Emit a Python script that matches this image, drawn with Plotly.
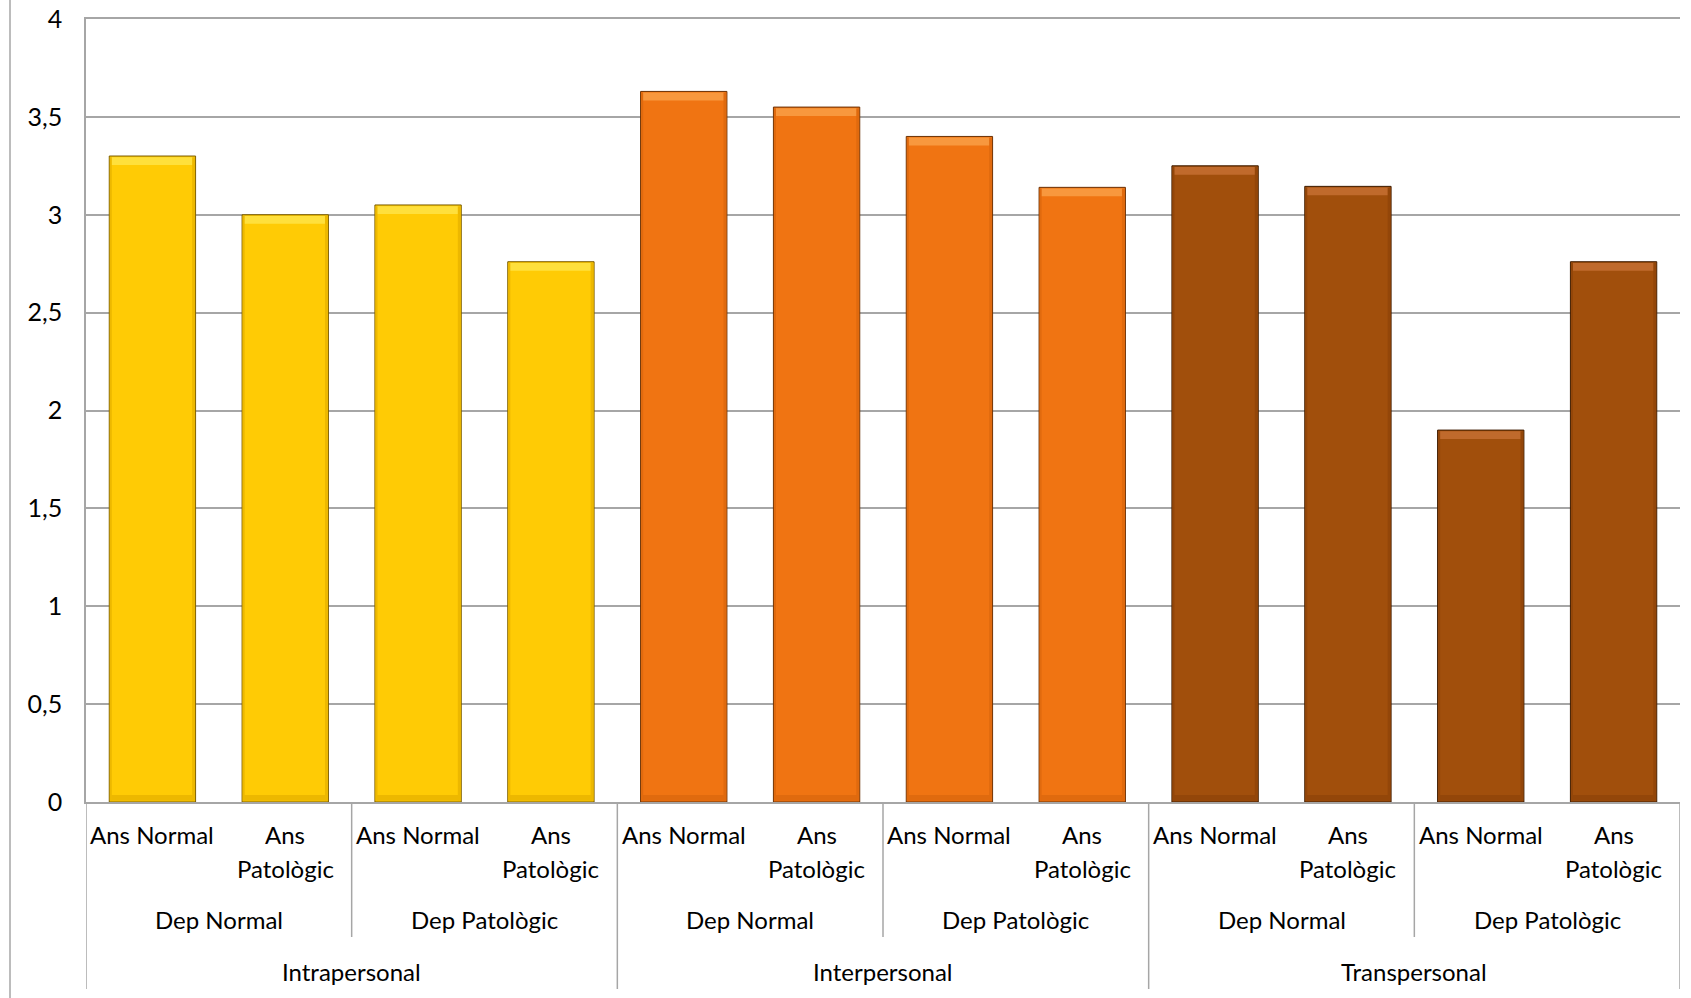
import plotly.graph_objects as go

# Hierarchical categories: dimension > depression level > anxiety level
dimensions = ["Intrapersonal", "Interpersonal", "Transpersonal"]
depression = ["Dep Normal", "Dep Patològic"]
anxiety = ["Ans Normal", "Ans Patològic"]

# Mean scores, one list per dimension (order: DepN/AnsN, DepN/AnsP, DepP/AnsN, DepP/AnsP)
intrapersonal = [3.30, 3.00, 3.05, 2.76]
interpersonal = [3.63, 3.55, 3.40, 3.14]
transpersonal = [3.25, 3.145, 1.90, 2.76]

y_ticks = [0, 0.5, 1, 1.5, 2, 2.5, 3, 3.5, 4]
y_tick_text = ["0", "0,5", "1", "1,5", "2", "2,5", "3", "3,5", "4"]

series = [intrapersonal, interpersonal, transpersonal]
fills = ["#FFCB05", "#F07412", "#A14F0C"]
highlights = ["#FFE03C", "#F8983E", "#C06A2C"]
shades = ["#EDB800", "#E06A0E", "#934609"]
edges = ["#7A5C00", "#6A3004", "#3E1C00"]

FONT = "Lato"
GRID = "#A6A6A6"
BAR_W = 0.65
TOP_BAND = 0.04
BOTTOM_BAND = 0.03
EDGE_W = 0.022

fig = go.Figure()
n_per_dim = len(depression) * len(anxiety)
for d, vals in enumerate(series):
    xs = [d * n_per_dim + i for i in range(n_per_dim)]
    fig.add_trace(go.Bar(
        x=xs, y=vals, width=BAR_W,
        marker=dict(color=fills[d], line=dict(color=edges[d], width=1)),
        showlegend=False, hoverinfo="y",
    ))
    # bevel: light top band, darker bottom band and darker side strips
    fig.add_trace(go.Bar(
        x=xs, y=[TOP_BAND] * len(vals), base=[v - TOP_BAND - 0.006 for v in vals],
        width=BAR_W - 0.03,
        marker=dict(color=highlights[d], line=dict(width=0)),
        showlegend=False, hoverinfo="skip",
    ))
    fig.add_trace(go.Bar(
        x=xs, y=[BOTTOM_BAND] * len(vals), base=[0.006] * len(vals),
        width=BAR_W - 0.03,
        marker=dict(color=shades[d], line=dict(width=0)),
        showlegend=False, hoverinfo="skip",
    ))
    fig.add_trace(go.Bar(
        x=xs, y=[v - 0.012 for v in vals], base=[0.006] * len(vals),
        width=EDGE_W, offset=BAR_W / 2 - EDGE_W - 0.004,
        marker=dict(color=shades[d], line=dict(width=0)),
        showlegend=False, hoverinfo="skip",
    ))
    fig.add_trace(go.Bar(
        x=xs, y=[v - 0.012 for v in vals], base=[0.006] * len(vals),
        width=EDGE_W * 0.7, offset=-BAR_W / 2 + 0.004,
        marker=dict(color=shades[d], line=dict(width=0)),
        showlegend=False, hoverinfo="skip",
    ))

n_total = n_per_dim * len(dimensions)

# paper-y positions of the label rows and separator lines below the axis
plot_h = 783.0
def below(px):
    return -px / plot_h

shapes = []
annotations = []

# separators between depression groups and between dimensions
for k in range(0, n_total + 1, len(anxiety)):
    xb = k - 0.5
    outer = (k % n_per_dim == 0)
    shapes.append(dict(type="line", xref="x", yref="paper",
                       x0=xb, x1=xb, y0=0, y1=below(187 if outer else 135),
                       line=dict(color=GRID, width=1.5)))

LABEL_FONT = dict(family=FONT, size=24, color="#000000")

# anxiety labels (wrapped when too long for the category)
for i in range(n_total):
    lab = anxiety[i % len(anxiety)]
    if len(lab) > 10:
        first, rest = lab.split(" ", 1)
        annotations.append(dict(x=i, y=below(33), text=first))
        annotations.append(dict(x=i, y=below(66), text=rest))
    else:
        annotations.append(dict(x=i, y=below(33), text=lab))

# depression labels
for g in range(len(dimensions) * len(depression)):
    xc = g * len(anxiety) + (len(anxiety) - 1) / 2
    annotations.append(dict(x=xc, y=below(117), text=depression[g % len(depression)]))

# dimension labels
for d, name in enumerate(dimensions):
    xc = d * n_per_dim + (n_per_dim - 1) / 2
    annotations.append(dict(x=xc, y=below(169), text=name))

for a in annotations:
    a.update(xref="x", yref="paper", showarrow=False, xanchor="center",
             yanchor="middle", font=LABEL_FONT)

# outer frame line on the left of the chart
shapes.append(dict(type="line", xref="paper", yref="paper",
                   x0=-76 / 1594, x1=-76 / 1594, y0=1 + 19 / plot_h, y1=below(200),
                   line=dict(color=GRID, width=1.5)))

fig.update_layout(
    width=1691, height=998,
    margin=dict(l=86, r=11, t=19, b=196, autoexpand=False),
    paper_bgcolor="white", plot_bgcolor="white",
    barmode="overlay", bargap=0.35,
    shapes=shapes, annotations=annotations,
    font=dict(family=FONT, size=24, color="#000000"),
    xaxis=dict(range=[-0.5, n_total - 0.5], showticklabels=False, showgrid=False,
               zeroline=False, showline=True, mirror=True, linecolor=GRID,
               linewidth=1.5, automargin=False, fixedrange=True),
    yaxis=dict(range=[0, 4], tickvals=y_ticks, ticktext=y_tick_text,
               showgrid=True, gridcolor=GRID, gridwidth=1.5, zeroline=False,
               showline=True, linecolor=GRID, linewidth=1.5, automargin=False,
               ticks="", ticklabelstandoff=17,
               tickfont=dict(family=FONT, size=25, color="#000000")),
)

fig.write_html("out.html")
